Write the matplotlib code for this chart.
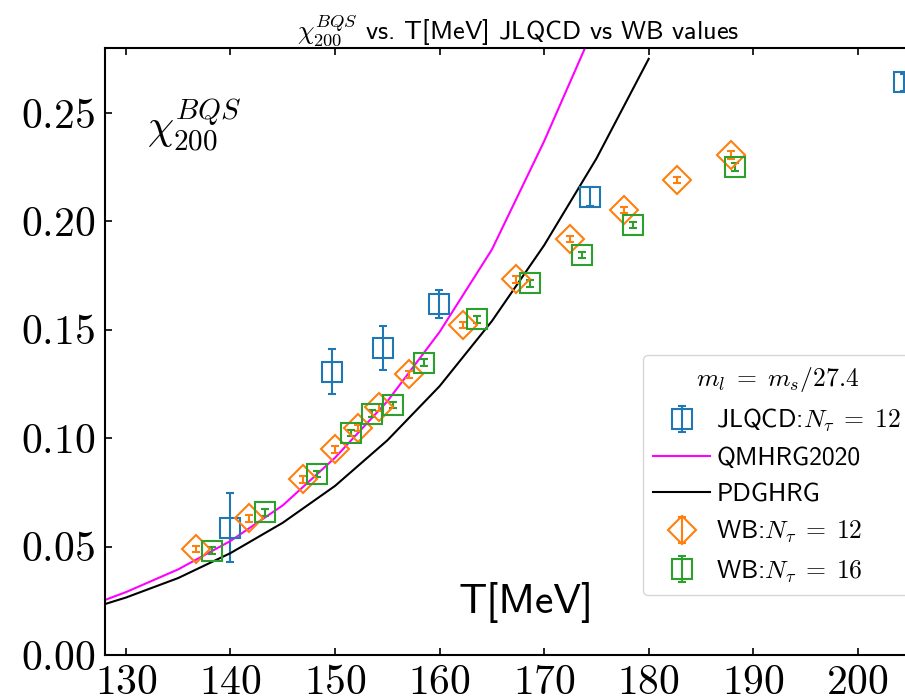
import matplotlib
matplotlib.use("Agg")
import matplotlib.pyplot as plt
from matplotlib.ticker import FormatStrFormatter, MultipleLocator

plt.rcParams["mathtext.fontset"] = "cm"
plt.rcParams["font.family"] = ["cmss10", "DejaVu Sans"]

# JLQCD, N_tau = 12
jlqcd_T = [140.0, 149.7, 154.6, 159.9, 174.4, 204.4]
jlqcd_chi = [0.0588, 0.1307, 0.1417, 0.1619, 0.2114, 0.2642]
jlqcd_err = [0.0158, 0.0103, 0.0102, 0.0063, 0.0045, 0.0040]

# WB, N_tau = 12
wb12_T = [136.7, 141.8, 146.9, 150.0, 152.2, 154.2, 157.1, 162.2, 167.3,
          172.5, 177.6, 182.7, 187.9]
wb12_chi = [0.0488, 0.0630, 0.0810, 0.0949, 0.1046, 0.1142, 0.1294, 0.1522,
            0.1733, 0.1919, 0.2053, 0.2191, 0.2306]
wb12_err = [0.0015, 0.0015, 0.0015, 0.0015, 0.0015, 0.0015, 0.0015, 0.0015,
            0.0015, 0.0015, 0.0015, 0.0015, 0.0018]

# WB, N_tau = 16
wb16_T = [138.2, 143.3, 148.3, 151.5, 153.5, 155.5, 158.5, 163.6, 168.6,
          173.6, 178.5, 188.3]
wb16_chi = [0.0481, 0.0658, 0.0834, 0.1024, 0.1114, 0.1153, 0.1349, 0.1548,
            0.1714, 0.1845, 0.1983, 0.2250]
wb16_err = [0.0015, 0.0015, 0.0015, 0.0015, 0.0015, 0.0015, 0.0015, 0.0015,
            0.0015, 0.0015, 0.0015, 0.0018]

# HRG curves
qm_T = [128, 130, 135, 140, 145, 150, 155, 160, 165, 170, 175]
qm_chi = [0.0254, 0.0290, 0.0395, 0.0526, 0.0690, 0.0910, 0.1170, 0.1490,
          0.1870, 0.2370, 0.2920]
pdg_T = [128, 130, 135, 140, 145, 150, 155, 160, 165, 170, 175, 180]
pdg_chi = [0.0235, 0.0265, 0.0355, 0.0470, 0.0610, 0.0780, 0.0990, 0.1240,
           0.1540, 0.1890, 0.2290, 0.2750]

fig = plt.figure(figsize=(9.05, 7.0), dpi=100)
ax = fig.add_axes([105 / 905, 45 / 700, 826 / 905, 607 / 700])

eb_kw = dict(ms=14, mfc="none", mew=1.5, elinewidth=1.5, capsize=3,
             capthick=1.5, ls="none")

h_jl = ax.errorbar(jlqcd_T, jlqcd_chi, yerr=jlqcd_err, fmt="s",
                   color="tab:blue", **eb_kw)
l_qm, = ax.plot(qm_T, qm_chi, color="magenta", lw=1.5)
l_pdg, = ax.plot(pdg_T, pdg_chi, color="black", lw=1.5)
h_wb12 = ax.errorbar(wb12_T, wb12_chi, yerr=wb12_err, fmt="D",
                     color="tab:orange", **eb_kw)
h_wb16 = ax.errorbar(wb16_T, wb16_chi, yerr=wb16_err, fmt="s",
                     color="tab:green", **eb_kw)

ax.set_xlim(128, 207)
ax.set_ylim(0, 0.28)
ax.xaxis.set_major_locator(MultipleLocator(10))
ax.yaxis.set_major_locator(MultipleLocator(0.05))
ax.xaxis.set_major_formatter(FormatStrFormatter("$%d$"))
ax.yaxis.set_major_formatter(FormatStrFormatter("$%.2f$"))
ax.tick_params(direction="in", top=True, right=True, length=5, width=1.2,
               labelsize=30, pad=7)
for s in ax.spines.values():
    s.set_linewidth(1.5)

ax.set_title(r"$\chi_{200}^{BQS}$ vs. T[MeV] JLQCD vs WB values", fontsize=19)
ax.text(0.051, 0.919, r"$\chi_{200}^{BQS}$", transform=ax.transAxes,
        fontsize=30, ha="left", va="top")
ax.text(0.51, 0.069, "T[MeV]", transform=ax.transAxes, fontsize=30,
        ha="center", va="baseline")

fig.legend([h_jl, l_qm, l_pdg, h_wb12, h_wb16],
           [r"JLQCD:$N_\tau\;=\;12$", "QMHRG2020", "PDGHRG",
            r"WB:$N_\tau\;=\;12$", r"WB:$N_\tau\;=\;16$"],
           loc="upper left", bbox_to_anchor=(643 / 905, 1 - 355 / 700),
           bbox_transform=fig.transFigure, borderaxespad=0, fontsize=18.5,
           title=r"$m_l\;=\;m_s/27.4$", title_fontsize=18.5,
           handlelength=2.2, handletextpad=0.25, labelspacing=0.5)

fig.savefig("out.png", dpi=100)
